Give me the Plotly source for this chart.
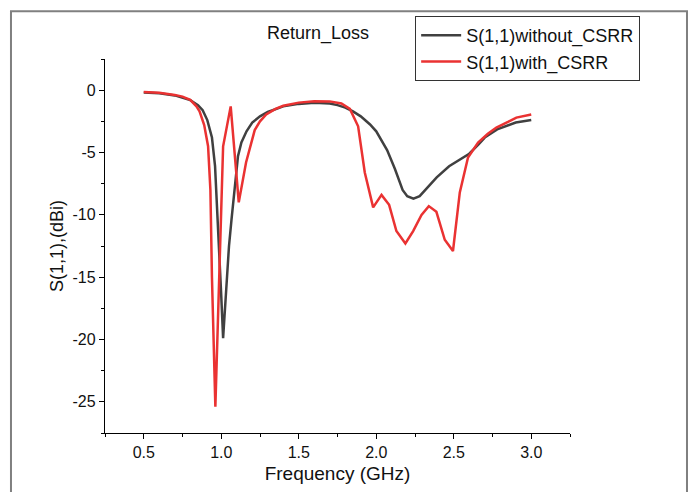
import plotly.graph_objects as go

# Frequency sweep (GHz) and S11 (dB) for the antenna without CSRR
freq_without = [0.5, 0.6, 0.7, 0.75, 0.8, 0.85, 0.88, 0.91, 0.94, 0.96, 0.98, 0.99,
                1.0, 1.012, 1.03, 1.05, 1.066, 1.09, 1.108, 1.13, 1.163, 1.2, 1.25,
                1.3, 1.4, 1.5, 1.6, 1.7, 1.75, 1.8, 1.85, 1.9, 1.96, 2.0, 2.07, 2.12,
                2.17, 2.2, 2.24, 2.28, 2.33, 2.39, 2.47, 2.55, 2.6, 2.66, 2.7, 2.78,
                2.85, 2.9, 3.0]
s11_without = [-0.18, -0.25, -0.42, -0.58, -0.8, -1.2, -1.6, -2.4, -3.8, -6.1, -11.0, -13.3,
               -16.5, -19.9, -16.0, -12.5, -10.4, -7.2, -5.3, -4.2, -3.3, -2.6, -2.1,
               -1.75, -1.3, -1.1, -1.0, -1.07, -1.2, -1.4, -1.7, -2.1, -2.75, -3.3, -4.8, -6.3,
               -8.0, -8.5, -8.7, -8.5, -7.8, -7.0, -6.1, -5.5, -5.1, -4.35, -3.8, -3.15,
               -2.8, -2.6, -2.4]

# Frequency sweep (GHz) and S11 (dB) for the antenna with CSRR
freq_with = [0.5, 0.6, 0.7, 0.75, 0.8, 0.84, 0.86, 0.89, 0.915, 0.93, 0.94, 0.962,
             1.012, 1.061, 1.113, 1.16, 1.216, 1.25, 1.29, 1.35, 1.4, 1.5, 1.6, 1.7,
             1.775, 1.83, 1.883, 1.926, 1.98, 2.034, 2.083, 2.13, 2.188, 2.238, 2.292,
             2.339, 2.388, 2.442, 2.495, 2.539, 2.592, 2.657, 2.72, 2.775, 2.85, 2.904, 3.0]
s11_with = [-0.15, -0.2, -0.38, -0.52, -0.78, -1.3, -1.7, -2.8, -4.5, -8.0, -15.0, -25.4,
            -4.5, -1.3, -9.0, -5.8, -3.2, -2.5, -1.95, -1.5, -1.25, -1.0, -0.88, -0.9,
            -1.07, -1.5, -2.9, -6.6, -9.4, -8.4, -9.2, -11.3, -12.3, -11.3, -10.0,
            -9.3, -9.76, -12.0, -12.9, -8.2, -5.4, -4.2, -3.5, -3.0, -2.55, -2.2, -1.95]

x_tickvals = [0.5, 1.0, 1.5, 2.0, 2.5, 3.0]
x_ticktext = ["0.5", "1.0", "1.5", "2.0", "2.5", "3.0"]
y_tickvals = [0, -5, -10, -15, -20, -25]
y_ticktext = ["0", "-5", "-10", "-15", "-20", "-25"]

FONT = "Liberation Sans, Arial, sans-serif"

fig = go.Figure()
fig.add_trace(go.Scatter(x=freq_without, y=s11_without, mode="lines",
                         name="S(1,1)without_CSRR",
                         line=dict(color="#404040", width=2.5)))
fig.add_trace(go.Scatter(x=freq_with, y=s11_with, mode="lines",
                         name="S(1,1)with_CSRR",
                         line=dict(color="#ea3232", width=2.5)))

axis_common = dict(showgrid=False, zeroline=False, showline=True, linecolor="#000",
                   linewidth=1.3, ticks="outside", ticklen=5, tickwidth=1.3,
                   tickcolor="#000", tickfont=dict(family=FONT, size=16, color="#111"),
                   mirror=False)

fig.update_xaxes(range=[0.25, 3.25], tickvals=x_tickvals, ticktext=x_ticktext,
                 minor=dict(ticks="outside", ticklen=3, tickwidth=1.3, tickcolor="#000",
                            tickvals=[0.25, 0.75, 1.25, 1.75, 2.25, 2.75, 3.25]),
                 title=dict(text="Frequency (GHz)", font=dict(family=FONT, size=19, color="#111"),
                            standoff=6),
                 **axis_common)
fig.update_yaxes(range=[-27.5, 2.5], tickvals=y_tickvals, ticktext=y_ticktext,
                 minor=dict(ticks="outside", ticklen=3, tickwidth=1.3, tickcolor="#000",
                            tickvals=[2.5, -2.5, -7.5, -12.5, -17.5, -22.5, -27.5]),
                 title=dict(text="S(1,1),(dBi)", font=dict(family=FONT, size=18, color="#111"),
                            standoff=4),
                 **axis_common)

fig.update_layout(
    width=693, height=492,
    margin=dict(l=105, r=123, t=59, b=59, autoexpand=False),
    paper_bgcolor="white", plot_bgcolor="white",
    font=dict(family=FONT, color="#111"),
    showlegend=True,
    legend=dict(x=0.667, y=1.115, xanchor="left", yanchor="top",
                bgcolor="white", bordercolor="#333", borderwidth=1,
                font=dict(family=FONT, size=18, color="#111"),
                tracegroupgap=0, itemwidth=40),
    annotations=[dict(text="Return_Loss", x=0.458, y=1.0695, xref="paper", yref="paper",
                      xanchor="center", yanchor="middle", showarrow=False,
                      font=dict(family=FONT, size=18, color="#111"))],
    shapes=[dict(type="rect", xref="paper", yref="paper",
                 x0=-0.2022, x1=1.2516, y0=-0.2, y1=1.128,
                 line=dict(color="#808080", width=2), fillcolor="rgba(0,0,0,0)",
                 layer="below")],
)

fig.write_html("out.html")
